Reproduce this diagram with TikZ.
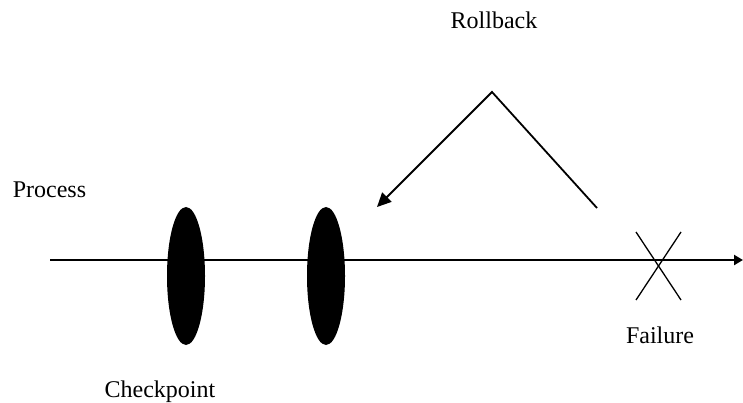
\documentclass[tikz,border=0pt]{standalone}
\usepackage{fontspec}
\setmainfont{Liberation Serif}
\usetikzlibrary{arrows.meta,shapes.geometric}
\begin{document}
\begin{tikzpicture}[x=1pt,y=-1pt,
  lbl/.style={font=\fontsize{24}{28}\selectfont, inner sep=0pt, anchor=base},
  ckpt/.style={ellipse, fill=black, minimum width=38pt, minimum height=138pt, inner sep=0pt},
  thinln/.style={line width=1.8pt},
  mainln/.style={line width=2.4pt}]
\useasboundingbox (0,0) rectangle (743,403);
\node[lbl] (rb) at (494,29) {Rollback};
\node[lbl] (pr) at (49.5,198) {Process};
\node[lbl] (fl) at (660,343) {Failure};
\node[lbl] (cp) at (160,397) {Checkpoint};
\coordinate (s) at (50,260);
\coordinate (e) at (743,260);
\draw[mainln, -{Triangle[length=9pt,width=10pt]}] (s) -- (e);
\node[ckpt] (c1) at (186,276) {};
\node[ckpt] (c2) at (326,276) {};
\coordinate (apex) at (492,92);
\coordinate (rend) at (597,208);
\coordinate (tip) at (377,207);
\draw[thinln, -{Triangle[length=14pt,width=13pt]}] (rend) -- (apex) -- (tip);
\coordinate (x1) at (636,232);
\coordinate (x2) at (681,300);
\coordinate (x3) at (681,232);
\coordinate (x4) at (636,300);
\draw[line width=1.3pt] (x1) -- (x2);
\draw[line width=1.3pt] (x3) -- (x4);
\end{tikzpicture}
\end{document}
